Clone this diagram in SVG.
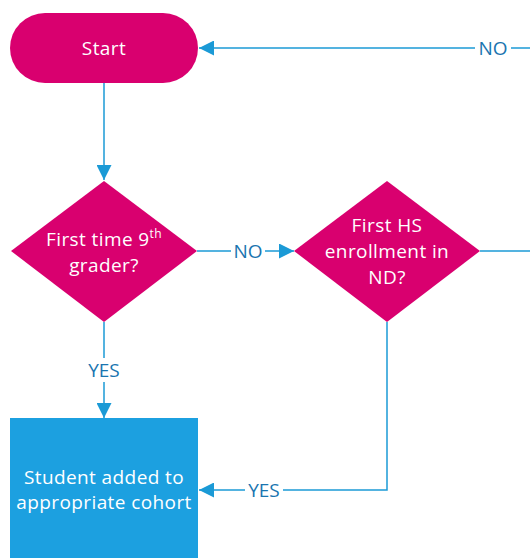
<svg xmlns="http://www.w3.org/2000/svg" width="530" height="558" viewBox="0 0 530 558">
<defs>
<marker id="arr" viewBox="0 0 10 10" refX="10" refY="5" markerWidth="15" markerHeight="15" markerUnits="userSpaceOnUse" orient="auto">
<path d="M0,0 L10,5 L0,10 z" fill="#1b9ad6"/>
</marker>
<style>
.node{fill:#d9006f}
.t{font-family:"Open Sans","Noto Sans",sans-serif;font-size:19px;letter-spacing:0.4px;fill:#fff;text-anchor:middle}
.c{stroke:#1b9ad6;stroke-width:1.5;fill:none}
.l{font-family:"Open Sans","Noto Sans",sans-serif;font-size:19px;fill:#1a75b0;text-anchor:middle}
.bg{fill:#fff}
</style>
</defs>
<rect width="530" height="558" fill="#fff"/>
<g id="connectors">
<path class="c" d="M104,83 V180" marker-end="url(#arr)"/>
<path class="c" d="M197,251 H294" marker-end="url(#arr)"/>
<path class="c" d="M104,322 V418" marker-end="url(#arr)"/>
<path class="c" d="M387,322 V490 H199" marker-end="url(#arr)"/>
<path class="c" d="M480,251 H530"/>
<path class="c" d="M530,48 H199" marker-end="url(#arr)"/>
<rect class="bg" x="231" y="239" width="34" height="24"/>
<text class="l" x="248" y="258">NO</text>
<rect class="bg" x="475" y="36" width="36" height="24"/>
<text class="l" x="493" y="55">NO</text>
<rect class="bg" x="85" y="358" width="38" height="24"/>
<text class="l" x="104" y="377">YES</text>
<rect class="bg" x="245" y="478" width="38" height="24"/>
<text class="l" x="264" y="497">YES</text>
</g>
<g id="start">
<rect class="node" x="10" y="13" width="188" height="70" rx="35" ry="35"/>
<text class="t" x="104" y="55">Start</text>
</g>
<g id="q1">
<polygon class="node" points="104,181 197,251 104,322 11,251"/>
<text class="t" x="104" y="246">First time 9<tspan font-size="12" dy="-8">th</tspan></text>
<text class="t" x="104" y="272">grader?</text>
</g>
<g id="q2">
<polygon class="node" points="387,181 480,251 387,322 294,251"/>
<text class="t" x="387" y="232">First HS</text>
<text class="t" x="387" y="258">enrollment in</text>
<text class="t" x="387" y="284">ND?</text>
</g>
<g id="cohort">
<rect x="10" y="418" width="188" height="150" fill="#1ca0e0"/>
<text class="t" x="104" y="484">Student added to</text>
<text class="t" x="104" y="509">appropriate cohort</text>
</g>
</svg>
